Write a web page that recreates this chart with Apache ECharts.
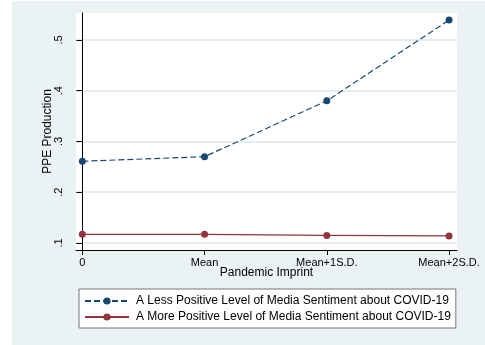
<!DOCTYPE html>
<html><head><meta charset="utf-8">
<style>html,body{margin:0;padding:0;background:#fff}#c{width:485px;height:345px}</style>
<script src="https://cdn.jsdelivr.net/npm/echarts@6/dist/echarts.min.js"></script>
</head><body><div id="c"></div>
<script>
const categories = ['0', 'Mean', 'Mean+1S.D.', 'Mean+2S.D.'];
const yTicks = [0.1, 0.2, 0.3, 0.4, 0.5];
const lessPositive = [0.261, 0.270, 0.380, 0.539];
const morePositive = [0.117, 0.117, 0.115, 0.114];
const seriesNames = ['A Less Positive Level of Media Sentiment about COVID-19', 'A More Positive Level of Media Sentiment about COVID-19'];

const font = 'Liberation Sans, Arial, sans-serif';
const chart = echarts.init(document.getElementById('c'), null, {renderer: 'canvas'});
const pairs = arr => arr.map((v, i) => [i, v]);
chart.setOption({
  animation: false,
  backgroundColor: '#ffffff',
  graphic: [{type: 'rect', z: -10, silent: true, shape: {x: 12, y: 1, width: 473, height: 344}, style: {fill: '#eaf2f3'}},
            {type: 'rect', z: -9, silent: true, shape: {x: 76, y: 13, width: 381, height: 237}, style: {fill: '#ffffff'}}],
  grid: {left: 76, top: 13, right: 28, bottom: 95, containLabel: false},
  xAxis: {
    type: 'value', min: -0.052, max: 3.065,
    name: 'Pandemic Imprint', nameLocation: 'middle', nameGap: 17, nameMoveOverlap: false,
    nameTextStyle: {fontFamily: font, fontSize: 12, color: '#000'},
    axisLine: {show: true, onZero: false, lineStyle: {color: '#000', width: 1}},
    axisTick: {show: true, length: 5, customValues: [0, 1, 2, 3], lineStyle: {color: '#000'}},
    axisLabel: {customValues: [0, 1, 2, 3], formatter: v => categories[Math.round(v)], margin: 7,
      fontFamily: font, fontSize: 11, color: '#000'},
    splitLine: {show: false}
  },
  yAxis: {
    type: 'value', min: 0.0862, max: 0.553,
    name: 'PPE Production', nameLocation: 'middle', nameGap: 22, nameMoveOverlap: false,
    nameTextStyle: {fontFamily: font, fontSize: 12, color: '#000'},
    axisLine: {show: true, lineStyle: {color: '#000', width: 1}},
    axisTick: {show: true, length: 6, customValues: yTicks, lineStyle: {color: '#000'}},
    axisLabel: {customValues: yTicks, rotate: 90, margin: 12,
      formatter: v => String(Math.round(v * 10) / 10).replace(/^0/, ''),
      fontFamily: font, fontSize: 11, color: '#000'},
    splitLine: {show: true, lineStyle: {color: '#e4edef', width: 2}}
  },
  legend: {
    orient: 'vertical', left: 79, top: 289,
    padding: [5, 5, 4, 5], itemGap: 2, itemWidth: 44, itemHeight: 9,
    backgroundColor: '#fff', borderColor: '#777', borderWidth: 1, borderRadius: 0,
    textStyle: {fontFamily: font, fontSize: 12, color: '#000', lineHeight: 14, padding: [0, 0, 0, 2]},
    data: seriesNames
  },
  series: [
    {name: seriesNames[0], type: 'line', data: pairs(lessPositive), symbol: 'circle', symbolSize: 7,
     itemStyle: {color: '#1a476f'}, lineStyle: {color: '#1a476f', width: 1.2, type: [6, 3]}},
    {name: seriesNames[1], type: 'line', data: pairs(morePositive), symbol: 'circle', symbolSize: 7,
     itemStyle: {color: '#90353b'}, lineStyle: {color: '#90353b', width: 1.2}}
  ]
});
</script></body></html>
